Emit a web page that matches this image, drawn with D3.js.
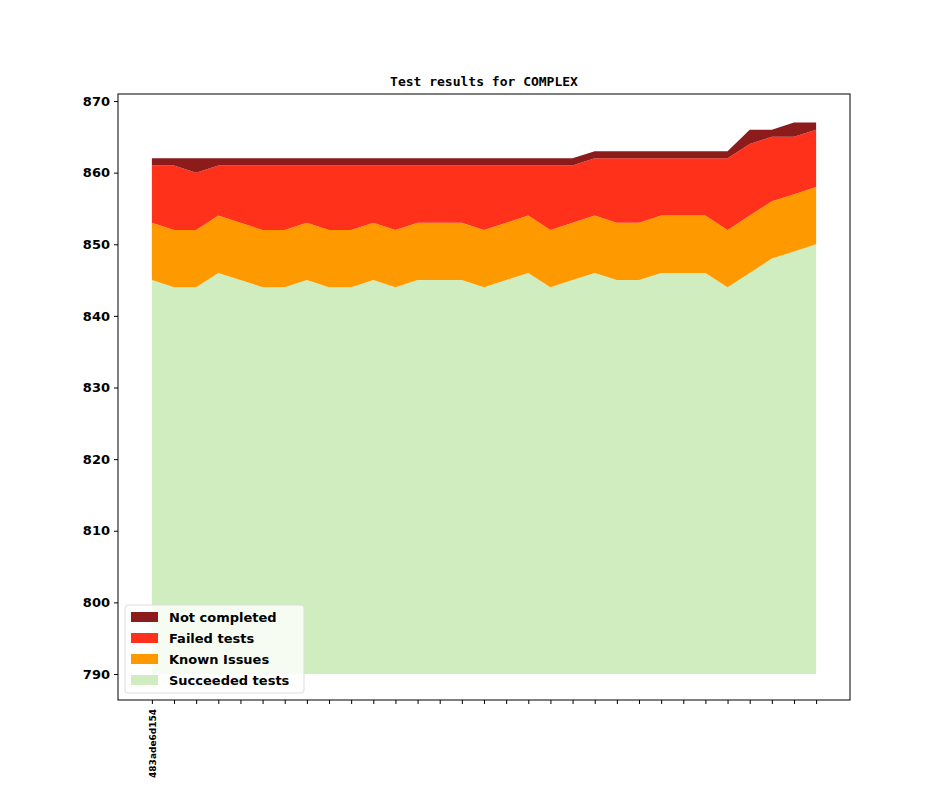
<!DOCTYPE html>
<html>
<head>
<meta charset="utf-8">
<script src="https://cdn.jsdelivr.net/npm/d3@7"></script>
<style>
body { margin: 0; background: #fff; }
text { font-family: "DejaVu Sans", sans-serif; font-weight: bold; }
</style>
</head>
<body>
<svg id="plot" width="944" height="787"></svg>
<script>
// values
var commits = ["483ade6d154"];
var succeeded = [845,844,844,846,845,844,844,845,844,844,845,844,845,845,845,844,845,846,844,845,846,845,845,846,846,846,844,846,848,849,850];
var knownIssues = [8,8,8,8,8,8,8,8,8,8,8,8,8,8,8,8,8,8,8,8,8,8,8,8,8,8,8,8,8,8,8];
var failed = [8,9,8,7,8,9,9,8,9,9,8,9,8,8,8,9,8,7,9,8,8,9,9,8,8,8,10,10,9,8,8];
var notCompleted = [1,1,2,1,1,1,1,1,1,1,1,1,1,1,1,1,1,1,1,1,1,1,1,1,1,1,1,2,1,2,1];
var yTicks = [790,800,810,820,830,840,850,860,870];
var seriesNames = ["Succeeded tests", "Known Issues", "Failed tests", "Not completed"];
var colors = ["#cfedbf", "#ff9900", "#ff311a", "#8c1b1c"];
var baseline = 790;

var plotLeft = 118, plotRight = 850, plotTop = 94, plotBottom = 700;
var svg = d3.select("#plot");

var rows = succeeded.map(function(d, i) {
  return { i: i, s: d - baseline, k: knownIssues[i], f: failed[i], n: notCompleted[i] };
});
var stack = d3.stack().keys(["s", "k", "f", "n"]);
var layers = stack(rows);

var xScale = d3.scaleLinear().domain([-1.53, 31.53]).range([plotLeft, plotRight]);
var yScale = d3.scaleLinear().domain([786.37, 870.98]).range([plotBottom, plotTop]);

var area = d3.area()
  .x(function(d) { return xScale(d.data.i); })
  .y0(function(d) { return yScale(d[0] + baseline); })
  .y1(function(d) { return yScale(d[1] + baseline); });

svg.selectAll("path.layer")
  .data(layers)
  .enter()
  .append("path")
  .attr("class", "layer")
  .attr("d", area)
  .attr("fill", function(d, i) { return colors[i]; });

// axes
var yAxis = d3.axisLeft(yScale).tickValues(yTicks).tickSize(4).tickPadding(4);
var gy = svg.append("g").attr("transform", "translate(" + plotLeft + ",0)").call(yAxis);
gy.selectAll("text").attr("font-size", "13px").attr("fill", "#000");
gy.select(".domain").remove();

var xAxis = d3.axisBottom(xScale).tickValues(d3.range(succeeded.length)).tickSize(4)
  .tickFormat(function(d) { return commits[d] || ""; });
var gx = svg.append("g").attr("transform", "translate(0," + plotBottom + ")").call(xAxis);
gx.select(".domain").remove();
gx.selectAll("text")
  .attr("font-size", "9px")
  .attr("fill", "#000")
  .attr("text-anchor", "end")
  .attr("transform", "rotate(-90)")
  .attr("x", -9).attr("y", 0).attr("dy", "0.35em");

svg.append("rect")
  .attr("x", plotLeft).attr("y", plotTop)
  .attr("width", plotRight - plotLeft).attr("height", plotBottom - plotTop)
  .attr("fill", "none").attr("stroke", "#000").attr("stroke-width", 1);

svg.append("text")
  .attr("x", (plotLeft + plotRight) / 2).attr("y", 86)
  .attr("text-anchor", "middle")
  .attr("font-size", "13px")
  .style("font-family", "'DejaVu Sans Mono', monospace")
  .text("Test results for COMPLEX");

// legend
var legend = svg.append("g").attr("transform", "translate(125,605)");
legend.append("rect")
  .attr("width", 179).attr("height", 88).attr("rx", 3)
  .attr("fill", "#fff").attr("fill-opacity", 0.8).attr("stroke", "#ddd");
var order = [3, 2, 1, 0];
order.forEach(function(k, j) {
  legend.append("rect")
    .attr("x", 6).attr("y", 7 + j * 21)
    .attr("width", 27).attr("height", 10)
    .attr("fill", colors[k]);
  legend.append("text")
    .attr("x", 44).attr("y", 17 + j * 21)
    .attr("font-size", "13px")
    .text(seriesNames[k]);
});
</script>
</body>
</html>
